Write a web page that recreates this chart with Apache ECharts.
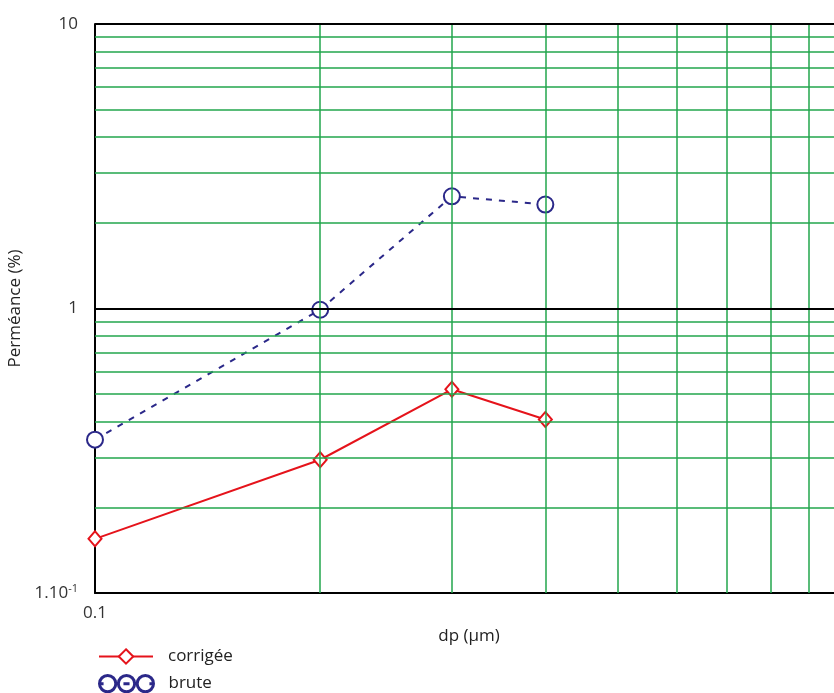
<!DOCTYPE html>
<html>
<head>
<meta charset="utf-8">
<script src="https://cdn.jsdelivr.net/npm/echarts@6/dist/echarts.min.js"></script>
<style>
  html, body { margin: 0; padding: 0; background: #ffffff; }
  #chart { width: 834px; height: 693px; }
</style>
</head>
<body>
<div id="chart"></div>
<script>
// Particle diameter (µm) and permeance (%) for the two curves
const diameters = [0.1, 0.2, 0.3, 0.4];
const corrigee = [0.155, 0.294, 0.52, 0.407];
const brute = [0.346, 0.99, 2.48, 2.32];

// Log-paper grid values
const xGridValues = [0.2, 0.3, 0.4, 0.5, 0.6, 0.7, 0.8, 0.9];
const yGridMinor = [0.2, 0.3, 0.4, 0.5, 0.6, 0.7, 0.8, 0.9, 2, 3, 4, 5, 6, 7, 8, 9];
const yGridMajor = [1, 10];

const GREEN = '#22a64c';
const RED = '#e5131b';
const NAVY = '#2b2889';
const FONT = '"Open Sans", "DejaVu Sans", sans-serif';

function near(a, b) { return Math.abs(a - b) < 1e-9 * Math.max(1, Math.abs(b)); }

const gridLines = []
  .concat(xGridValues.map(v => ({ xAxis: v, lineStyle: { color: GREEN, width: 1.5, type: 'solid' } })))
  .concat(yGridMinor.map(v => ({ yAxis: v, lineStyle: { color: GREEN, width: 1.5, type: 'solid' } })))
  .concat(yGridMajor.map(v => ({ yAxis: v, lineStyle: { color: '#000', width: 2, type: 'solid' } })));

const legendText = { fontSize: 17, color: '#222', fontFamily: FONT, padding: [0, 0, 0, 10] };

const chart = echarts.init(document.getElementById('chart'), null, { renderer: 'canvas' });

chart.setOption({
  animation: false,
  backgroundColor: '#ffffff',
  textStyle: { fontFamily: FONT },
  grid: { left: 95, top: 24, bottom: 100, right: -9, containLabel: false, outerBoundsMode: 'none' },
  xAxis: {
    type: 'log',
    logBase: 10,
    min: 0.1,
    max: 1,
    name: 'dp (µm)',
    nameLocation: 'middle',
    nameGap: 35,
    nameTextStyle: { fontSize: 17, color: '#222', fontFamily: FONT },
    axisLine: { show: true, lineStyle: { color: '#000', width: 2 } },
    axisTick: { show: false },
    splitLine: { show: false },
    axisLabel: {
      margin: 12,
      fontSize: 17,
      color: '#333',
      fontFamily: FONT,
      formatter: v => (near(v, 0.1) ? '0.1' : '')
    }
  },
  yAxis: {
    type: 'log',
    logBase: 10,
    min: 0.1,
    max: 10,
    name: 'Perméance (%)',
    nameLocation: 'middle',
    nameGap: 68,
    nameTextStyle: { fontSize: 17, color: '#222', fontFamily: FONT },
    axisLine: { show: true, lineStyle: { color: '#000', width: 2 } },
    axisTick: { show: false },
    splitLine: { show: false },
    axisLabel: {
      margin: 17,
      fontSize: 17,
      color: '#333',
      fontFamily: FONT,
      formatter: v => {
        if (near(v, 10)) return '10';
        if (near(v, 1)) return '1';
        if (near(v, 0.1)) return '1.10{sup|-1}';
        return '';
      },
      rich: {
        sup: { fontSize: 11, color: '#333', verticalAlign: 'top', padding: [0, 0, 9, 0], fontFamily: FONT }
      }
    }
  },
  legend: [
    {
      left: 98,
      top: 648,
      padding: 0,
      itemWidth: 54,
      itemHeight: 18,
      textStyle: legendText,
      data: [{ name: 'corrigée' }]
    },
    {
      left: 98,
      top: 674,
      padding: 0,
      itemWidth: 54,
      itemHeight: 18,
      textStyle: legendText,
      data: [{
        name: 'brute',
        icon: 'path://M17,9A8,8 0 1,1 1,9A8,8 0 1,1 17,9Z M35.5,9A8,8 0 1,1 19.5,9A8,8 0 1,1 35.5,9Z M54,9A8,8 0 1,1 38,9A8,8 0 1,1 54,9Z M1,9L5,9 M24.5,9L30.5,9 M50,9L54,9',
        itemStyle: { color: 'rgba(255,255,255,0)', borderColor: NAVY, borderWidth: 3 }
      }]
    }
  ],
  series: [
    {
      name: 'grid',
      type: 'line',
      data: [],
      silent: true,
      z: 1,
      markLine: {
        silent: true,
        symbol: 'none',
        label: { show: false },
        animation: false,
        lineStyle: { type: 'solid' },
        data: gridLines
      }
    },
    {
      name: 'corrigée',
      type: 'line',
      z: 3,
      data: diameters.map((d, i) => [d, corrigee[i]]),
      symbol: 'emptyDiamond',
      symbolSize: [13, 15],
      color: RED,
      lineStyle: { color: RED, width: 2 },
      itemStyle: { color: RED, borderColor: RED, borderWidth: 2 }
    },
    {
      name: 'brute',
      type: 'line',
      z: 3,
      data: diameters.map((d, i) => [d, brute[i]]),
      symbol: 'emptyCircle',
      symbolSize: 16,
      color: NAVY,
      lineStyle: { color: NAVY, width: 2, type: [6, 7] },
      itemStyle: { color: NAVY, borderColor: NAVY, borderWidth: 3 }
    }
  ]
});
</script>
</body>
</html>
